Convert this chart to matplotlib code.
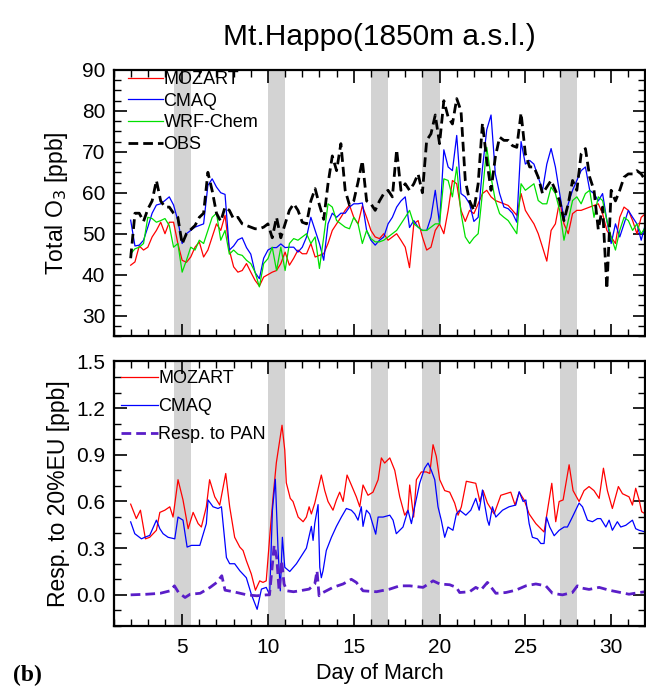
import numpy as np
import matplotlib
matplotlib.use('Agg')
import matplotlib.pyplot as plt
from matplotlib.ticker import MultipleLocator

plt.rcParams['font.family'] = ['Liberation Sans', 'DejaVu Sans']
TICKFONT = ['Liberation Sans Narrow', 'Liberation Sans', 'DejaVu Sans']

# ---- top panel: total O3 (ppb), every 6 h from 2 to 32 March ----
day_top = np.arange(2, 32.01, 0.25)

obs = [44, 55, 55, 53,  56, 58, 63, 58,  56.5, 56.5, 55, 54,  47.5, 50, 51, 52,
       54, 55, 65, 60.5,  55, 53, 56.5, 55.7,  53.6, 54, 52.4, 52,  51.6, 51.2, 51.2, 51.6,
       52.4, 49, 54, 49,  52.4, 55.7, 57.3, 55.7,  52.8, 52.4, 58, 61,  57, 53.5, 62.2, 69,
       65.4, 72, 60.6, 57,  58, 62.6, 67.8, 58,  57.3, 55.7, 58, 59.8,  60.6, 59, 70.5, 60.6,
       62.2, 60.6, 62.2, 64.6,  60, 72.8, 74.4, 79,  72, 82.5, 78.5, 76.8,  83, 80, 63, 58,
       55.7, 62.2, 77, 67.9,  60.6, 68.7, 73.6, 72.8,  72.8, 71.5, 71.1, 79.5,  69.5, 66.3, 66.3, 63.8,
       59.8, 61.4, 63, 60.6,  58, 53.2, 57.3, 63,  60.6, 69.5, 70.8, 63.8,  60.6, 51, 56.5, 36.5,
       60.6, 58, 60.6, 63.8,  64.6, 64.6, 65.4, 64.6,  63]

cmaq = [53.3, 47, 47.2, 48.4,  51.6, 55, 57, 57.3,  58.1, 59, 57, 53.2,  47.6, 50, 50.8, 51.6,
        52, 52.4, 61.8, 63.4,  61.4, 60, 59.6, 46,  47, 48.5, 49, 46.6,  45, 40.5, 39, 44,
        46, 46.6, 46.6, 47.5,  46.6, 46.7, 46.7, 45.5,  46.7, 49.2, 54, 50.8,  47.6, 43.5, 52.4, 55,
        54, 55, 55, 56.5,  57.3, 57.3, 57.5, 50.8,  48.4, 47.2, 48.4, 49.2,  52.4, 54, 56.5, 58,
        59, 51.5, 53.2, 51.6,  50.8, 50.8, 54, 60.6,  52.4, 70.5, 66.3, 65.4,  74, 59.8, 59, 57.3,
        53, 54, 66, 75.4,  79, 64.6, 59.8, 56.5,  56.1, 55, 52.8, 72.5,  67, 67.9, 67, 63.8,
        60.6, 67, 70.8, 66.3,  59.8, 53.5, 57.3, 60.6,  63, 65.4, 66.3, 60.6,  59.8, 58, 59.8, 53.2,
        47.6, 52.4, 49.2, 52.4,  55.7, 54, 52.4, 48.4,  52.4]

mozart = [42.3, 43.1, 47, 46,  46.7, 49.2, 50.8, 52.8,  50, 52.8, 52.8, 47.6,  43.5, 43, 44.3, 46.7,
          48, 44.3, 46, 49.2,  52.4, 50.8, 54.5, 46,  41.9, 40.6, 41, 42.7,  40.6, 38.6, 37.2, 39.4,
          40, 40.6, 41, 42.7,  45.5, 42.3, 44, 46,  45.1, 45.1, 47.6, 44.3,  44.7, 45.1, 47.6, 50.8,
          52.4, 54, 55.7, 57,  54, 52.4, 56.8, 54,  50.8, 49.2, 48.8, 50,  48.4, 49.2, 50, 48.4,
          46.7, 41.7, 52.4, 53.2,  49.2, 46, 46.7, 50.8,  52.4, 50, 55.7, 63,  62.2, 55.7, 53, 55.7,
          54.9, 57.3, 59.8, 60.6,  59, 58.1, 57.7, 57.3,  56.9, 55.7, 54.5, 59.8,  55.7, 54, 52.4, 50,
          46.7, 43.3, 50.8, 52.4,  58.1, 52.4, 50, 54.9,  55.7, 55.7, 56.1, 56.5,  56.9, 57.3, 54.9, 50.8,
          49.2, 47.6, 54, 56.5,  55.7, 53.2, 50, 54,  54.9]

wrf = [45.1, 46.3, 46.7, 47.6,  54, 53.7, 52.8, 53.2,  53.7, 52, 46.7, 47.6,  40.6, 43.5, 46.7, 46,
       48.4, 47.6, 50.8, 54,  55, 48.4, 50.8, 45,  46, 45, 44.7, 43.5,  42.7, 40.6, 37, 42.7,
       43.9, 46.7, 41, 46.7,  41, 47.6, 48.8, 48.4,  49.2, 50, 47.6, 49.2,  41.5, 49.2, 57.3, 56.5,
       53.2, 52.4, 51.6, 51.2,  54, 52.4, 47.6, 50.8,  48.8, 48, 48, 48.4,  49.2, 50, 50.8, 52.4,
       54, 55.7, 52.4, 51.6,  50.8, 50.8, 51.6, 52.4,  52.4, 63.4, 63, 59,  66.3, 55, 49.2, 47.6,
       49, 50, 60, 71.1,  63.8, 58.1, 54.9, 54,  53.2, 51.6, 50, 62.2,  60.6, 61.4, 62.2, 58.1,
       57.3, 57.3, 61.4, 59.8,  55.7, 48.4, 53.2, 58.1,  59, 57.3, 59.8, 60.6,  54, 59, 58.1, 53.2,
       49.2, 46, 50.8, 54,  53.2, 50.8, 52.4, 50,  51.6]

# ---- bottom panel: response to 20% EU emission change (ppb) ----
moz_day = [2.0, 2.33, 2.57, 2.86, 3.11, 3.5, 3.7, 3.99, 4.28, 4.47, 4.76, 5.05, 5.35, 5.64,
           5.93, 6.12, 6.41, 6.6, 6.9, 7.19, 7.54, 7.77, 8.06, 8.36, 8.55, 8.74, 9.03, 9.27,
           9.52, 9.71, 9.9, 10.1, 10.3, 10.49, 10.82, 10.98, 11.07, 11.3, 11.46, 11.76, 12.05,
           12.24, 12.4, 12.53, 12.73, 13.11, 13.31, 13.5, 13.79, 13.99, 14.18, 14.38, 14.61,
           14.86, 15.15, 15.35, 15.54, 15.83, 16.12, 16.42, 16.61, 16.8, 17.1, 17.39, 17.68,
           17.97, 18.16, 18.26, 18.49, 18.65, 18.94, 19.23, 19.43, 19.62, 19.81, 20.01, 20.3,
           20.59, 20.88, 21.08, 21.27, 21.56, 22.11, 22.35, 22.54, 22.79, 23.18, 23.57, 24.15,
           24.4, 24.64, 24.93, 25.22, 25.61, 25.9, 26.09, 26.29, 26.54, 26.77, 26.97, 27.2,
           27.55, 27.78, 28.13, 28.42, 28.71, 29.0, 29.3, 29.55, 29.78, 30.07, 30.42, 30.66,
           31.04, 31.24, 31.43, 31.63, 31.78, 32.0]
moz_resp = [0.583, 0.49, 0.544, 0.36, 0.37, 0.415, 0.53, 0.544, 0.566, 0.50, 0.74, 0.61, 0.425,
            0.53, 0.458, 0.436, 0.566, 0.74, 0.63, 0.577, 0.78, 0.566, 0.37, 0.307, 0.285, 0.22,
            0.134, 0.03, 0.09, 0.08, 0.09, 0.37, 0.63, 0.85, 1.09, 0.93, 0.72, 0.62, 0.6, 0.5,
            0.47, 0.5, 0.566, 0.52, 0.59, 0.77, 0.67, 0.6, 0.544, 0.61, 0.66, 0.6, 0.77, 0.706,
            0.63, 0.566, 0.706, 0.64, 0.66, 0.74, 0.88, 0.847, 0.88, 0.80, 0.63, 0.512, 0.544,
            0.706, 0.5, 0.74, 0.79, 0.79, 0.78, 0.965, 0.89, 0.74, 0.67, 0.66, 0.59, 0.512, 0.566,
            0.73, 0.717, 0.6, 0.67, 0.59, 0.52, 0.64, 0.66, 0.577, 0.66, 0.61, 0.52, 0.458, 0.425,
            0.404, 0.544, 0.717, 0.47, 0.6, 0.61, 0.836, 0.67, 0.6, 0.67, 0.696, 0.67, 0.62,
            0.814, 0.67, 0.555, 0.696, 0.65, 0.63, 0.577, 0.685, 0.61, 0.534, 0.52]

cmaq_day = [2.0, 2.24, 2.63, 2.82, 3.11, 3.5, 3.7, 3.89, 4.18, 4.57, 4.76, 5.05, 5.29, 5.54,
            6.03, 6.41, 6.51, 6.8, 7.09, 7.29, 7.58, 7.77, 8.06, 8.36, 8.74, 9.03, 9.37, 9.62,
            9.9, 10.1, 10.26, 10.43, 10.59, 10.72, 10.84, 10.98, 11.27, 11.66, 12.24, 12.53,
            12.63, 12.73, 12.92, 13.02, 13.11, 13.21, 13.4, 13.7, 13.99, 14.28, 14.57, 14.86,
            15.06, 15.25, 15.44, 15.54, 15.74, 15.93, 16.28, 16.42, 16.71, 17.1, 17.29, 17.48,
            17.87, 18.16, 18.36, 18.55, 18.84, 19.13, 19.33, 19.52, 19.72, 19.91, 20.1, 20.3,
            20.49, 20.78, 20.98, 21.17, 21.53, 21.82, 22.11, 22.31, 22.44, 22.5, 22.6, 22.79,
            22.89, 23.08, 23.28, 23.67, 24.05, 24.44, 24.64, 24.87, 25.03, 25.22, 25.41, 25.7,
            25.9, 26.09, 26.23, 26.42, 26.68, 26.97, 27.26, 27.45, 27.74, 28.13, 28.33, 28.62,
            28.91, 29.2, 29.39, 29.69, 29.88, 30.07, 30.36, 30.56, 30.85, 31.24, 31.43, 31.63,
            32.0]
cmaq_resp = [0.469, 0.393, 0.36, 0.37, 0.382, 0.48, 0.425, 0.393, 0.37, 0.36, 0.50, 0.48, 0.307,
             0.318, 0.318, 0.458, 0.61, 0.566, 0.555, 0.566, 0.24, 0.2, 0.2, 0.155, 0.11, 0.004,
             -0.093, 0.037, 0.048, 0.0, 0.544, 0.743, 0.285, 0.026, 0.37, 0.177, 0.15, 0.2, 0.3,
             0.44, 0.35, 0.46, 0.58, 0.177, 0.11, 0.155, 0.285, 0.37, 0.44, 0.50, 0.555, 0.544,
             0.52, 0.48, 0.566, 0.44, 0.544, 0.52, 0.39, 0.5, 0.5, 0.512, 0.48, 0.393, 0.436,
             0.544, 0.458, 0.566, 0.717, 0.814, 0.847, 0.80, 0.74, 0.566, 0.48, 0.37, 0.436, 0.415,
             0.52, 0.544, 0.512, 0.544, 0.62, 0.544, 0.63, 0.674, 0.6, 0.48, 0.447, 0.566, 0.5,
             0.544, 0.566, 0.577, 0.663, 0.6, 0.61, 0.458, 0.37, 0.36, 0.33, 0.33, 0.5, 0.436,
             0.38, 0.415, 0.436, 0.436, 0.5, 0.59, 0.566, 0.48, 0.47, 0.49, 0.49, 0.436, 0.48,
             0.415, 0.47, 0.436, 0.447, 0.48, 0.425, 0.415, 0.404]

pan_day = [2.0, 2.94, 3.72, 4.3, 4.55, 4.79, 5.17, 5.47, 6.05, 6.63, 7.02, 7.31, 7.5, 7.99,
           8.77, 9.35, 9.93, 10.09, 10.28, 10.36, 10.51, 10.65, 10.8, 10.94, 11.1, 11.49, 11.85,
           12.4, 12.73, 12.86, 12.98, 13.21, 13.79, 14.38, 14.86, 15.15, 15.54, 16.32, 17.1,
           17.68, 18.26, 19.04, 19.62, 20.01, 20.59, 20.98, 21.17, 21.75, 22.11, 22.4, 22.79,
           23.28, 23.86, 24.44, 25.03, 25.61, 26.19, 26.58, 27.16, 27.74, 28.03, 28.32, 28.71,
           29.3, 29.88, 30.46, 31.04, 31.63, 32.0]
pan_resp = [0.0, 0.004, 0.01, 0.026, 0.058, 0.015, -0.017, 0.004, 0.01, 0.048, 0.08, 0.123, 0.03,
            0.02, 0.0, -0.006, 0.0, 0.0, 0.22, 0.318, 0.24, 0.026, 0.22, 0.07, 0.026, 0.02, 0.026,
            0.037, 0.07, 0.155, -0.006, 0.015, 0.048, 0.07, 0.1, 0.08, 0.026, 0.02, 0.037, 0.058,
            0.058, 0.048, 0.09, 0.07, 0.065, 0.048, 0.015, 0.02, 0.048, 0.03, 0.08, 0.01, 0.015,
            0.03, 0.058, 0.07, 0.058, 0.01, 0.0, 0.015, 0.058, 0.043, 0.035, 0.048, 0.03, 0.017,
            0.004, 0.015, 0.02]

# shaded days
bands = [(4.5, 5.5), (10.0, 11.0), (16.0, 17.0), (19.0, 20.0), (27.0, 28.0)]

fig = plt.figure(figsize=(6.46, 6.86), dpi=100)
ax1 = fig.add_axes([0.1757, 0.5102, 0.8235, 0.3878])
ax2 = fig.add_axes([0.1757, 0.0875, 0.8235, 0.3856])

for ax in (ax1, ax2):
    for b0, b1 in bands:
        ax.axvspan(b0, b1, color='#d3d3d3', lw=0, zorder=0)
    ax.set_xlim(1, 32)
    ax.xaxis.set_major_locator(MultipleLocator(5))
    ax.xaxis.set_minor_locator(MultipleLocator(1))
    ax.tick_params(which='both', direction='in', top=True, right=True, labelsize=15)
    ax.tick_params(which='major', length=9, width=1.2)
    ax.tick_params(which='minor', length=5, width=1)
    ax.tick_params(axis='x', pad=9)
    ax.tick_params(axis='y', pad=6)
    for s in ax.spines.values():
        s.set_linewidth(1.6)

# top
ax1.plot(day_top, mozart, color='red', lw=0.9, label='MOZART')
ax1.plot(day_top, cmaq, color='blue', lw=0.9, label='CMAQ')
ax1.plot(day_top, wrf, color='#00e000', lw=0.9, label='WRF-Chem')
ax1.plot(day_top, obs, color='black', lw=2, dashes=(3.5, 1.8), label='OBS')
ax1.set_ylim(25, 90)
ax1.set_yticks([30, 40, 50, 60, 70, 80, 90])
ax1.yaxis.set_minor_locator(MultipleLocator(2.5))
ax1.tick_params(labelbottom=False)
ax1.set_ylabel('Total O$_3$ [ppb]', fontsize=16.5)
ax1.yaxis.set_label_coords(-0.081, 0.5)
ax1.legend(loc='upper left', bbox_to_anchor=(0.028, 0.995), frameon=False,
           fontsize=13, handlelength=1.9, handletextpad=0.05, labelspacing=0.25,
           borderaxespad=0, borderpad=0)
ax1.set_title('Mt.Happo(1850m a.s.l.)', fontsize=21.5, pad=18)

# bottom
ax2.plot(moz_day, moz_resp, color='red', lw=0.9, label='MOZART')
ax2.plot(cmaq_day, cmaq_resp, color='blue', lw=0.9, label='CMAQ')
ax2.plot(pan_day, pan_resp, color='#5a1ec8', lw=2, dashes=(3.5, 1.8), label='Resp. to PAN')
ax2.set_ylim(-0.2, 1.5)
ax2.set_yticks([0.0, 0.3, 0.6, 0.9, 1.2, 1.5])
ax2.set_yticklabels(['0.0', '0.3', '0.6', '0.9', '1.2', '1.5'])
ax2.yaxis.set_minor_locator(MultipleLocator(0.1))
ax2.set_ylabel('Resp. to 20%EU [ppb]', fontsize=16.5)
ax2.yaxis.set_label_coords(-0.081, 0.5)
ax2.set_xlabel('Day of March', fontsize=15.5, labelpad=4)
ax2.legend(loc='upper left', bbox_to_anchor=(0.015, 0.966), frameon=False,
           fontsize=13, handlelength=2.0, handletextpad=0.05, labelspacing=0.6,
           borderaxespad=0, borderpad=0)

for ax in (ax1, ax2):
    for lab in ax.get_xticklabels() + ax.get_yticklabels():
        lab.set_family(TICKFONT)

fig.text(0.02, 0.0, '(b)', fontsize=17, fontweight='bold',
         family=['Liberation Serif', 'DejaVu Serif'], va='bottom')

plt.savefig('out.png', dpi=100)
